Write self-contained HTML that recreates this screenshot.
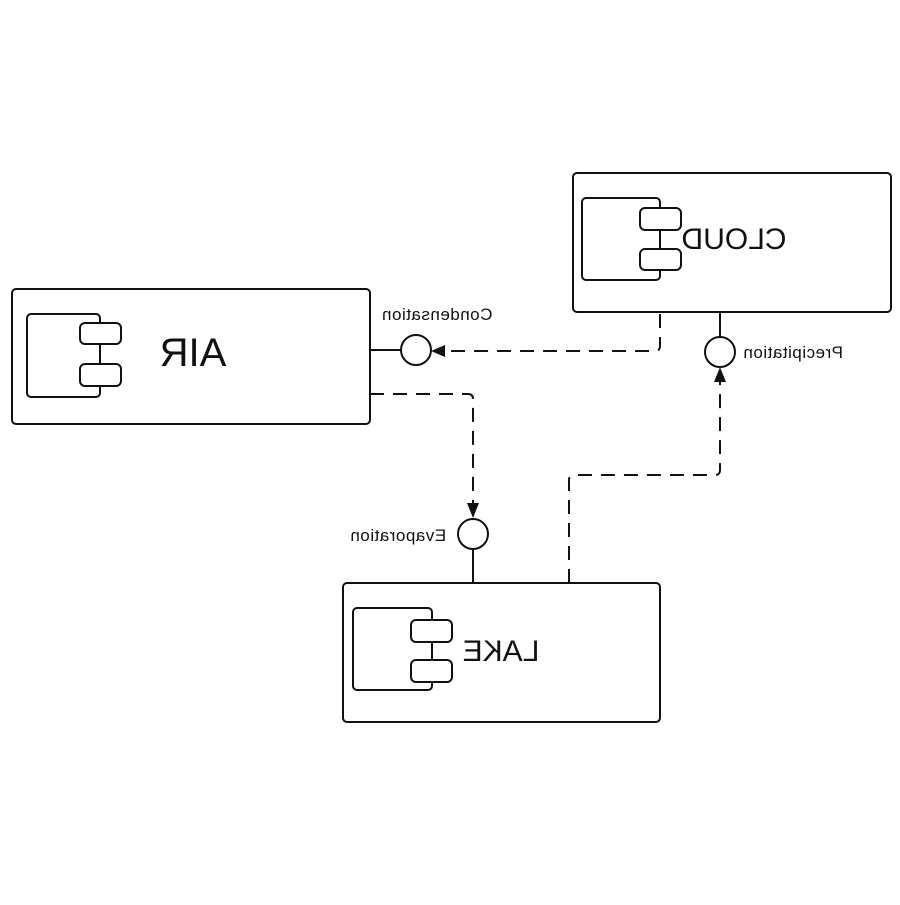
<!DOCTYPE html>
<html><head><meta charset="utf-8"><style>html,body{margin:0;padding:0;background:#fff}</style></head>
<body>
<svg width="900" height="900" viewBox="0 0 900 900" xmlns="http://www.w3.org/2000/svg" font-family="Liberation Sans, sans-serif">
<rect width="900" height="900" fill="#fff"/>
<g fill="none" stroke="#111" stroke-width="2">
<rect x="12" y="289" width="358" height="135" rx="4"/>
<rect x="27" y="314" width="73" height="83" rx="4"/>
<rect x="80" y="323" width="41" height="21" rx="5" fill="#fff"/>
<rect x="80" y="364" width="41" height="22" rx="5" fill="#fff"/>
<line x1="100" y1="344" x2="100" y2="364"/>
<rect x="573" y="173" width="318" height="139" rx="4"/>
<rect x="582" y="198" width="78" height="82" rx="4"/>
<rect x="640" y="208" width="41" height="22" rx="5" fill="#fff"/>
<rect x="640" y="249" width="41" height="21" rx="5" fill="#fff"/>
<line x1="660" y1="230" x2="660" y2="249"/>
<rect x="343" y="583" width="317" height="139" rx="4"/>
<rect x="353" y="608" width="79" height="82" rx="4"/>
<rect x="411" y="620" width="41" height="22" rx="5" fill="#fff"/>
<rect x="411" y="660" width="41" height="22" rx="5" fill="#fff"/>
<line x1="432" y1="642" x2="432" y2="660"/>
<line x1="370" y1="350" x2="401" y2="350"/>
<circle cx="416" cy="350" r="15" fill="#fff"/>
<line x1="720" y1="312" x2="720" y2="337"/>
<circle cx="720" cy="352" r="15" fill="#fff"/>
<line x1="473" y1="549" x2="473" y2="583"/>
<circle cx="473" cy="534" r="15" fill="#fff"/>
<g stroke-dasharray="14,9">
<path d="M660 314 V346 Q660 351 655 351 H444"/>
<path d="M370 394 H468 Q473 394 473 399 V503"/>
<path d="M569 583 V480 Q569 475 574 475 H715 Q720 475 720 470 V382"/>
</g>
</g>
<g fill="#111">
<polygon points="431,351 445,345 445,357"/>
<polygon points="473,518 467,503 479,503"/>
<polygon points="720,367 714,382 726,382"/>
</g>
<g fill="#111" text-anchor="middle">
<text transform="translate(193,366) scale(-1,1)" font-size="40">AIR</text>
<text transform="translate(734,249) scale(-1,1)" font-size="30">CLOUD</text>
<text transform="translate(501,661) scale(-1,1)" font-size="30">LAKE</text>
<text transform="translate(437,320) scale(-1,1)" font-size="17" letter-spacing="0.5">Condensation</text>
<text transform="translate(793,358) scale(-1,1)" font-size="17" letter-spacing="0.5">Precipitation</text>
<text transform="translate(398,541) scale(-1,1)" font-size="17" letter-spacing="0.5">Evaporation</text>
</g>
</svg>
</body></html>
